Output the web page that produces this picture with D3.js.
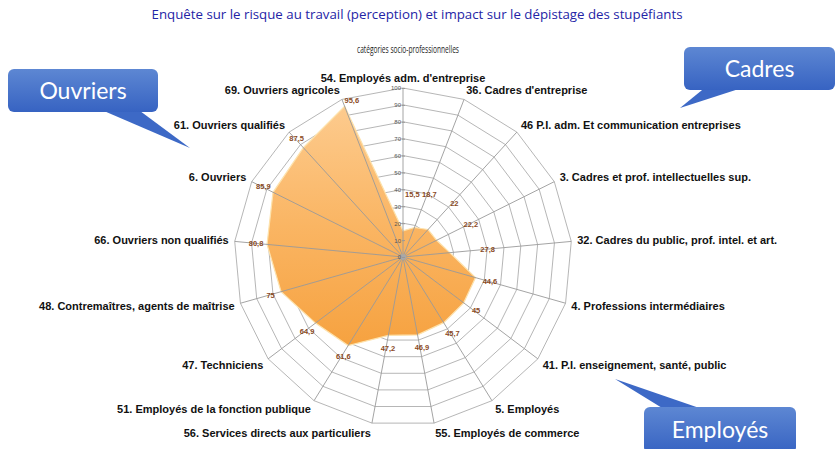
<!DOCTYPE html>
<html>
<head>
<meta charset="utf-8">
<script src="https://cdn.jsdelivr.net/npm/d3@7"></script>
<style>
  body { margin: 0; background: #fff; }
  svg { display: block; }
</style>
</head>
<body>
<svg></svg>
<script>

// chart data

let title = "Enquête sur le risque au travail (perception) et impact sur le dépistage des stupéfiants"
let subtitle = "catégories socio-professionnelles"

let categories = [
    "54. Employés adm. d'entreprise",
    "36. Cadres d'entreprise",
    "46 P.I. adm. Et communication entreprises",
    "3. Cadres et prof. intellectuelles sup.",
    "32. Cadres du public, prof. intel. et art.",
    "4. Professions intermédiaires",
    "41. P.I. enseignement, santé, public",
    "5. Employés",
    "55. Employés de commerce",
    "56. Services directs aux particuliers",
    "51. Employés de la fonction publique",
    "47. Techniciens",
    "48. Contremaîtres, agents de maîtrise",
    "66. Ouvriers non qualifiés",
    "6. Ouvriers",
    "61. Ouvriers qualifiés",
    "69. Ouvriers agricoles"
]

let values = [15.5, 18.7, 22, 22.2, 27.8, 44.6, 45, 45.7, 46.9, 47.2, 61.6, 64.9, 75, 80.8, 85.9, 87.5, 95.6]

let ticks = [0, 10, 20, 30, 40, 50, 60, 70, 80, 90, 100]

let callouts = ["Ouvriers", "Cadres", "Employés"]


// canvas

let width = 836
let height = 449
let cx = 403
let cy = 257
let radius = 169

let svg = d3.select('svg')
    .attr('width', width)
    .attr('height', height)

let rScale = d3.scaleLinear().domain([0, 100]).range([0, radius])
let aScale = d3.scaleLinear().domain([0, categories.length]).range([0, 2 * Math.PI])

let px = (i, r) => cx + r * Math.sin(aScale(i))
let py = (i, r) => cy - r * Math.cos(aScale(i))

let defs = svg.append('defs')

let grad = defs.append('linearGradient')
    .attr('id', 'fillGrad')
    .attr('x1', 0).attr('y1', 0).attr('x2', 0).attr('y2', 1)
grad.append('stop').attr('offset', '0%').attr('stop-color', '#fdcb8e')
grad.append('stop').attr('offset', '50%').attr('stop-color', '#fab563')
grad.append('stop').attr('offset', '100%').attr('stop-color', '#f6a240')

let blueGrad = defs.append('linearGradient')
    .attr('id', 'blueGrad')
    .attr('x1', 0).attr('y1', 0).attr('x2', 0).attr('y2', 1)
blueGrad.append('stop').attr('offset', '0%').attr('stop-color', '#5d87d3')
blueGrad.append('stop').attr('offset', '100%').attr('stop-color', '#3763c2')


// titles

svg.append('text')
    .attr('x', 417)
    .attr('y', 19)
    .attr('text-anchor', 'middle')
    .attr('textLength', 531)
    .attr('lengthAdjust', 'spacingAndGlyphs')
    .style('font-family', 'Open Sans, sans-serif')
    .style('font-size', '13px')
    .style('fill', '#2424a6')
    .text(title)

svg.append('text')
    .attr('x', 408)
    .attr('y', 53)
    .attr('text-anchor', 'middle')
    .attr('textLength', 102)
    .attr('lengthAdjust', 'spacingAndGlyphs')
    .style('font-family', 'Liberation Sans Narrow, Open Sans, sans-serif')
    .style('font-size', '11px')
    .style('fill', '#222')
    .text(subtitle)


// grid rings

let ringLine = d3.lineRadial()
    .angle((d, i) => aScale(i))
    .curve(d3.curveLinearClosed)

let grid = svg.append('g').attr('transform', 'translate(' + cx + ',' + cy + ')')

grid.selectAll('path.ring')
    .data(ticks.slice(1))
    .enter()
    .append('path')
    .attr('class', 'ring')
    .attr('d', t => ringLine.radius(() => rScale(t))(categories))
    .attr('fill', 'none')
    .attr('stroke', '#aeaeae')
    .attr('stroke-width', 0.9)


// data area

let area = d3.lineRadial()
    .angle((d, i) => aScale(i))
    .radius(d => rScale(d))
    .curve(d3.curveLinearClosed)

grid.append('path')
    .datum(values)
    .attr('d', area)
    .attr('fill', 'url(#fillGrad)')
    .attr('stroke', '#fde2ac')
    .attr('stroke-width', 1.2)


// spokes

svg.selectAll('line.spoke')
    .data(categories)
    .enter()
    .append('line')
    .attr('class', 'spoke')
    .attr('x1', cx)
    .attr('y1', cy)
    .attr('x2', (d, i) => px(i, radius))
    .attr('y2', (d, i) => py(i, radius))
    .attr('stroke', '#9a9a9a')
    .attr('stroke-width', 0.9)

svg.append('circle')
    .attr('cx', cx).attr('cy', cy).attr('r', 3)
    .attr('fill', '#a8a8a8')


// value axis

let yScale = d3.scaleLinear().domain([0, 100]).range([cy, cy - radius])
let yAxis = d3.axisLeft(yScale).tickValues(ticks).tickSize(3).tickPadding(1)

let axisG = svg.append('g')
    .attr('transform', 'translate(' + (cx + 2) + ', 0)')
    .call(yAxis)
axisG.select('.domain').remove()
axisG.selectAll('line').attr('stroke', '#999')
axisG.selectAll('text')
    .style('font-family', 'Liberation Sans, Arial, sans-serif')
    .style('font-size', '6px')
    .style('fill', '#555')


// category labels

svg.selectAll('text.cat')
    .data(categories)
    .enter()
    .append('text')
    .attr('class', 'cat')
    .attr('x', (d, i) => px(i, radius + 6))
    .attr('y', (d, i) => py(i, radius + 10))
    .attr('dy', '0.35em')
    .attr('text-anchor', (d, i) => {
        let s = Math.sin(aScale(i))
        return s > 0.01 ? 'start' : (s < -0.01 ? 'end' : 'middle')
    })
    .style('font-family', 'Liberation Sans, Arial, sans-serif')
    .style('font-weight', 'bold')
    .style('font-size', '11px')
    .style('fill', '#111')
    .text(d => d)


// value labels

let labelR = v => rScale(v) + (v < 30 ? 36 : (v > 90 ? 6 : 13))
let onAxis = i => Math.abs(Math.sin(aScale(i))) < 0.01

svg.selectAll('text.val')
    .data(values)
    .enter()
    .append('text')
    .attr('class', 'val')
    .attr('x', (d, i) => px(i, labelR(d)) + 2)
    .attr('y', (d, i) => py(i, labelR(d)))
    .attr('dy', '0.35em')
    .attr('text-anchor', (d, i) => (d > 90 || onAxis(i)) ? 'start' : 'middle')
    .style('font-family', 'Liberation Sans, Arial, sans-serif')
    .style('font-weight', 'bold')
    .style('font-size', '7.5px')
    .style('fill', '#8a4a1e')
    .text(d => String(d).replace('.', ','))


// callout bubbles

let bubble = (label, x, y, w, h, tail, tx, ty, fs) => {
    let g = svg.append('g')
    g.append('path')
        .attr('d', 'M' + tail[0] + ',' + tail[1] + ' L' + tx + ',' + ty + ' L' + tail[2] + ',' + tail[3] + ' Z')
        .attr('fill', '#3d69c6')
    g.append('rect')
        .attr('x', x).attr('y', y)
        .attr('width', w).attr('height', h)
        .attr('rx', 6)
        .attr('fill', 'url(#blueGrad)')
    g.append('text')
        .attr('x', x + w / 2)
        .attr('y', y + h / 2)
        .attr('dy', '0.35em')
        .attr('text-anchor', 'middle')
        .style('font-family', 'Lato, sans-serif')
        .style('font-size', fs + 'px')
        .style('fill', '#fff')
        .text(label)
}

bubble(callouts[0], 8, 69, 150, 43, [97, 108, 136, 108], 190, 148, 23)
bubble(callouts[1], 684, 47, 151, 43, [707, 86, 748, 86], 680, 108, 23)
bubble(callouts[2], 644, 407, 152, 46, [667, 411, 708, 411], 615, 379, 23)

</script>
</body>
</html>
